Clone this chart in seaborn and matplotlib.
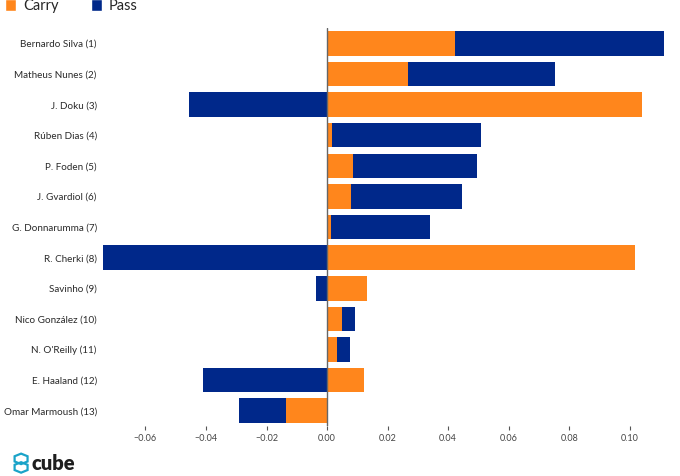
import matplotlib
matplotlib.use("Agg")
import matplotlib.pyplot as plt
from matplotlib.patches import Patch, RegularPolygon
import pandas as pd
import seaborn as sns

players = ["Bernardo Silva (1)", "Matheus Nunes (2)", "J. Doku (3)", "Rúben Dias (4)",
           "P. Foden (5)", "J. Gvardiol (6)", "G. Donnarumma (7)", "R. Cherki (8)",
           "Savinho (9)", "Nico González (10)", "N. O'Reilly (11)", "E. Haaland (12)",
           "Omar Marmoush (13)"]
carry = [0.0424, 0.0268, 0.1041, 0.0015, 0.0087, 0.0078, 0.0012, 0.1018,
         0.0133, 0.0049, 0.0032, 0.0123, -0.0137]
pass_ = [0.0689, 0.0486, -0.0457, 0.0492, 0.0409, 0.0369, 0.0327, -0.0740,
         -0.0036, 0.0043, 0.0045, -0.0409, -0.0155]

ORANGE = "#FF861C"
NAVY = "#00288A"

df = pd.DataFrame({"player": players, "carry": carry, "pass": pass_})
# pass is stacked on carry when both have the same sign, else it starts at zero
df["pass_end"] = [c + p if (c >= 0) == (p >= 0) else p for c, p in zip(carry, pass_)]

sns.set_theme(style="white")
plt.rcParams["font.family"] = ["Lato", "DejaVu Sans"]

fig = plt.figure(figsize=(6.8, 4.76), dpi=100)
ax = fig.add_axes([0.1515, 0.105, 0.825, 0.836])

sns.barplot(data=df, y="player", x="pass_end", color=NAVY, width=0.8,
            saturation=1, ax=ax, orient="h", linewidth=0)
sns.barplot(data=df, y="player", x="carry", color=ORANGE, width=0.8,
            saturation=1, ax=ax, orient="h", linewidth=0)

ax.axvline(0, color="#666666", lw=1, zorder=5)
ax.margins(x=0)
ax.set_xticks([-0.06, -0.04, -0.02, 0.0, 0.02, 0.04, 0.06, 0.08, 0.10])
ax.set_xticklabels(["−0.06", "−0.04", "−0.02", "0.00", "0.02", "0.04", "0.06", "0.08", "0.10"])
ax.set_xlabel("")
ax.set_ylabel("")
sns.despine(ax=ax, left=True, bottom=True)
ax.tick_params(axis="x", bottom=True, length=3, width=0.8, color="#555555",
               labelsize=6.5, labelcolor="#444444", pad=3)
ax.tick_params(axis="y", left=False, length=0, labelsize=7.1, labelcolor="#2a2a2a", pad=4.5)

handles = [Patch(facecolor=ORANGE, label="Carry"), Patch(facecolor=NAVY, label="Pass")]
fig.legend(handles=handles, loc="upper left", bbox_to_anchor=(-0.012, 1.03), ncol=2,
           frameon=False, fontsize=10.5, handlelength=0.75, handleheight=0.85,
           handletextpad=0.5, columnspacing=2.2)

# cube logo
for dy in [0.009, -0.009]:
    fig.patches.append(RegularPolygon((0.031, 0.027 + dy), 6, radius=0.011,
                                      orientation=0, fill=False, ec="#1AA3C8", lw=1.6,
                                      transform=fig.transFigure))
fig.text(0.047, 0.027, "cube", fontsize=14.5, fontweight="heavy", color="#1e1e1e",
         va="center", ha="left")

fig.savefig("out.png", dpi=100)
